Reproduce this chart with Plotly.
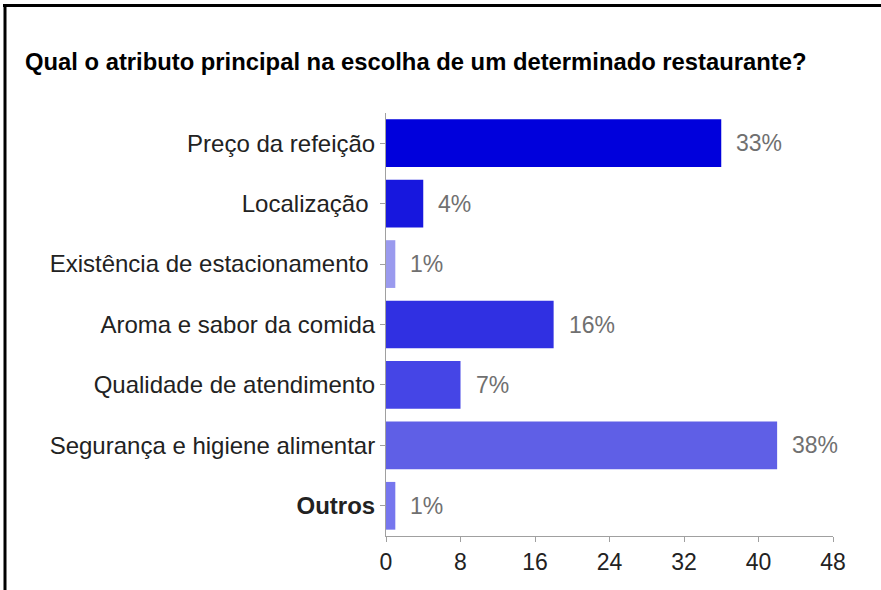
import plotly.graph_objects as go

# ---- data ----
categories = [
    "Preço da refeição",
    "Localização\u00a0",
    "Existência de estacionamento\u00a0",
    "Aroma e sabor da comida",
    "Qualidade de atendimento",
    "Segurança e higiene alimentar",
    "Outros",
]
counts = [36, 4, 1, 18, 8, 42, 1]
percent_labels = ["33%", "4%", "1%", "16%", "7%", "38%", "1%"]
bar_colors = ["#0000dc", "#1717de", "#9a9aee", "#3030e2", "#4545e6", "#5f5fe6", "#7676ee"]
x_ticks = [0, 8, 16, 24, 32, 40, 48]
title_text = "Qual o atributo principal na escolha de um determinado restaurante?"

# ---- layout constants ----
W, H = 881, 590
ML, MR, MT, MB = 386, 48, 113, 54
pw = W - ML - MR
ph = H - MT - MB

tick_text = [("<b>%s</b>" % c) if c == "Outros" else c for c in categories]

fig = go.Figure()
fig.add_trace(go.Bar(
    x=counts,
    y=categories,
    orientation="h",
    marker=dict(color=bar_colors, line=dict(width=0)),
    hoverinfo="skip",
))

for c, v, t in zip(categories, counts, percent_labels):
    fig.add_annotation(
        x=v, y=c, xref="x", yref="y",
        text=t, showarrow=False,
        xanchor="left", yanchor="middle", xshift=13,
        font=dict(family="Arial", size=23, color="#707070"),
    )

# frame (top and left edges visible)
def px_to_paper_x(px):
    return (px - ML) / pw

def px_to_paper_y(py):
    return (H - MB - py) / ph

fig.add_shape(
    type="line", xref="paper", yref="paper",
    x0=px_to_paper_x(3), x1=px_to_paper_x(W + 5),
    y0=px_to_paper_y(5.5), y1=px_to_paper_y(5.5),
    line=dict(color="#000000", width=3),
)
fig.add_shape(
    type="line", xref="paper", yref="paper",
    x0=px_to_paper_x(5), x1=px_to_paper_x(5),
    y0=px_to_paper_y(4), y1=px_to_paper_y(H + 5),
    line=dict(color="#000000", width=3),
)

fig.update_layout(
    width=W, height=H,
    margin=dict(l=ML, r=MR, t=MT, b=MB, pad=0),
    paper_bgcolor="#ffffff",
    plot_bgcolor="#ffffff",
    showlegend=False,
    bargap=0.21,
    title=dict(
        text=title_text,
        xref="container", yref="container",
        x=25 / W, xanchor="left",
        y=1 - 62 / H, yanchor="middle",
        font=dict(family="Arial", size=23.8, color="#000000", weight="bold"),
    ),
    xaxis=dict(
        range=[0, 48],
        tickmode="array", tickvals=x_ticks,
        ticktext=[str(v) for v in x_ticks],
        showgrid=False, zeroline=False,
        showline=True, linecolor="#a0a0a0", linewidth=1,
        ticks="outside", ticklen=5, tickcolor="#a0a0a0", tickwidth=1,
        tickfont=dict(family="Arial", size=23, color="#222222"),
        fixedrange=True,
    ),
    yaxis=dict(
        categoryorder="array", categoryarray=categories,
        autorange="reversed",
        tickmode="array", tickvals=categories, ticktext=tick_text,
        showgrid=False, zeroline=False,
        showline=True, linecolor="#a0a0a0", linewidth=1,
        ticks="outside", ticklen=5, tickcolor="#a0a0a0", tickwidth=1,
        ticklabelstandoff=0,
        tickfont=dict(family="Arial", size=24, color="#222222"),
        fixedrange=True,
    ),
)

fig.write_html(
    "out.html",
    config={"displayModeBar": False},
    post_script="document.body.style.margin='0';document.body.style.overflow='hidden';",
)
